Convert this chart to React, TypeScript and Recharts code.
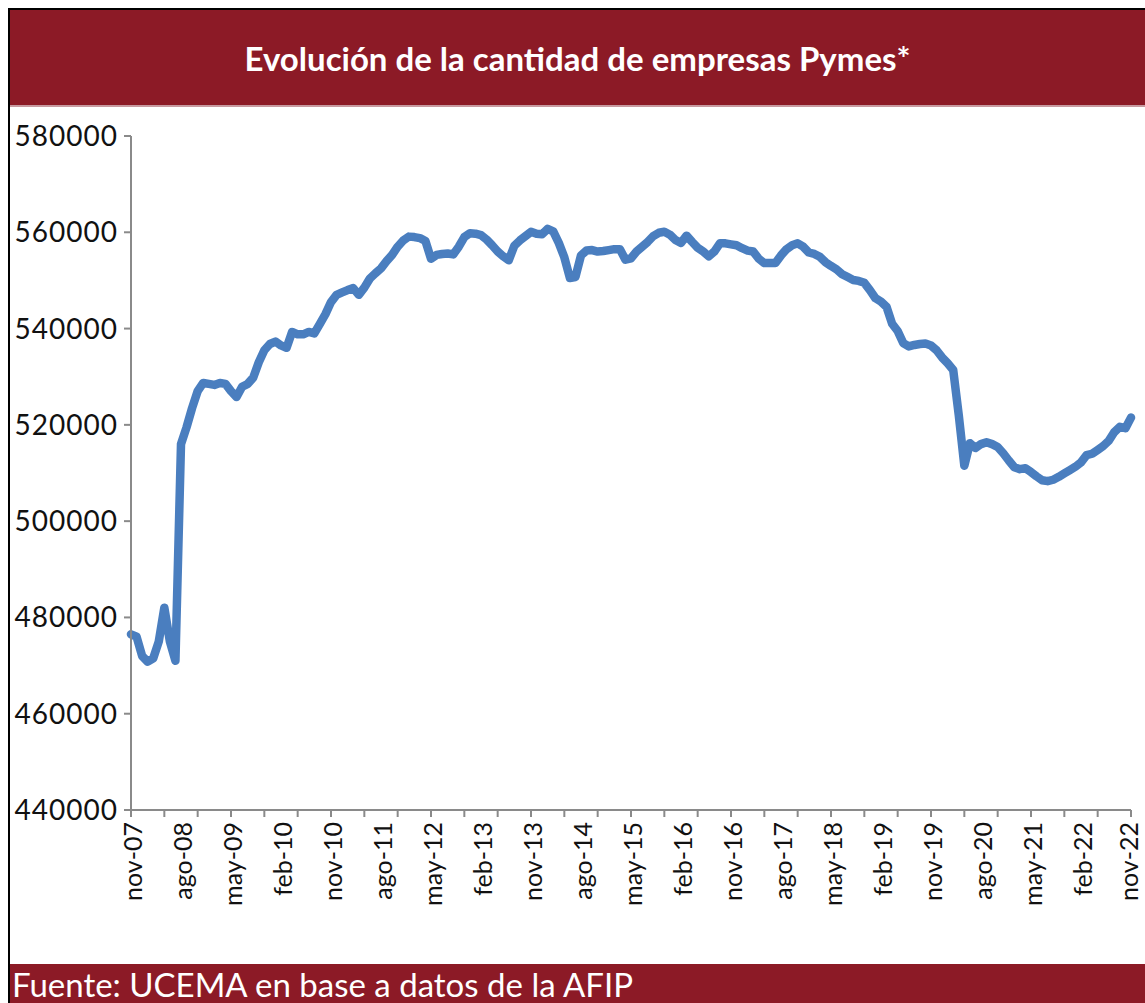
import { LineChart, Line, XAxis, YAxis } from 'recharts';

// meses en castellano, como en el eje del original
const MESES = ['ene', 'feb', 'mar', 'abr', 'may', 'jun', 'jul', 'ago', 'sep', 'oct', 'nov', 'dic'];
const MES_INICIO = 10; // nov
const ANIO_INICIO = 7; // 2007

// cantidad de empresas pymes, mensual nov-07 .. nov-22
const pymes = [
    476500, 476000, 472000, 470800, 471500, 475000, 482000, 475000, 471000, 516000,
    519500, 523500, 527000, 528700, 528500, 528300, 528700, 528500, 527000, 525800,
    527900, 528500, 529800, 533000, 535500, 536800, 537300, 536500, 536000, 539300,
    538800, 538800, 539300, 539000, 541000, 543000, 545500, 547000, 547500, 548000,
    548400, 547000, 548500, 550400, 551500, 552500, 554000, 555300, 557000, 558300,
    559100, 559000, 558800, 558200, 554500, 555300, 555500, 555600, 555400, 557000,
    559000, 559800, 559700, 559400, 558500, 557300, 556000, 555000, 554200, 557200,
    558300, 559200, 560100, 559700, 559600, 560700, 560200, 557800, 554800, 550500,
    550700, 555200, 556200, 556300, 556000, 556100, 556300, 556500, 556500, 554300,
    554600, 556000, 557000, 558000, 559200, 559900, 560100, 559500, 558400, 557800,
    559300, 558000, 556800, 556000, 555000, 556000, 557700, 557700, 557500, 557300,
    556700, 556200, 556000, 554500, 553600, 553600, 553600, 555200, 556500, 557300,
    557700, 557000, 555800, 555500, 554900, 553800, 553000, 552300, 551300, 550700,
    550100, 549900, 549500, 548000, 546300, 545600, 544500, 541000, 539500, 537000,
    536300, 536600, 536800, 536900, 536500, 535500, 534000, 532800, 531400, 522000,
    511500, 516200, 515200, 516000, 516400, 516000, 515400, 514100, 512600, 511200,
    510800, 511000, 510200, 509300, 508500, 508300, 508600, 509200, 509900, 510600,
    511300, 512200, 513700, 514000, 514800, 515600, 516700, 518500, 519600, 519300,
    521500,
];

const yTicks = [440000, 460000, 480000, 500000, 520000, 540000, 560000, 580000];

const fechas = pymes.map((_, i) => {
    const m = MES_INICIO + i;
    const anio = ANIO_INICIO + Math.floor(m / 12);
    return `${MESES[m % 12]}-${String(anio).padStart(2, '0')}`;
});

const data = pymes.map((v, i) => ({ fecha: fechas[i], pymes: v }));

const ROJO = '#8C1A26';
const AZUL = '#4A7EBF';
const EJE = '#8a8a8a';

// etiqueta cada 9 meses, marca cada 6 meses
const MonthTick = (props: any) => {
    const { x, y, payload } = props;
    const i = payload?.index ?? props.index;
    // la última queda pegada al borde, se corre un poco
    const tx = i === pymes.length - 1 ? x - 3 : x + 1;
    return (
        <g>
            {i % 6 === 0 && <line x1={x} y1={y} x2={x} y2={y + 7} stroke={EJE} strokeWidth={2} />}
            {i % 9 === 0 && (
                <text
                    x={tx}
                    y={y + 12}
                    transform={`rotate(-90, ${tx}, ${y + 12})`}
                    textAnchor="end"
                    dominantBaseline="central"
                    fill="#111"
                    fontSize={25}
                    fontFamily="Lato"
                >
                    {payload.value}
                </text>
            )}
        </g>
    );
};

export default function App() {
    return (
        <div style={{ position: 'absolute', left: 0, top: 0, width: 1145, height: 1003, background: '#fff', overflow: 'hidden' }}>
            <LineChart width={1145} height={960} data={data} margin={{ top: 136, right: 14, left: 0, bottom: 30 }}>
                <XAxis
                    dataKey="fecha"
                    interval={0}
                    height={120}
                    tickLine={false}
                    tickSize={0}
                    tickMargin={0}
                    axisLine={{ stroke: EJE, strokeWidth: 2 }}
                    tick={<MonthTick />}
                />
                <YAxis
                    width={131}
                    domain={[440000, 580000]}
                    ticks={yTicks}
                    allowDataOverflow
                    axisLine={{ stroke: EJE, strokeWidth: 2 }}
                    tickLine={{ stroke: EJE, strokeWidth: 2 }}
                    tickSize={7}
                    tickMargin={6}
                    tick={{ fill: '#111', fontSize: 28, fontFamily: 'Lato', letterSpacing: 1 }}
                />
                <Line
                    type="linear"
                    dataKey="pymes"
                    stroke={AZUL}
                    strokeWidth={8.5}
                    strokeLinejoin="round"
                    strokeLinecap="round"
                    dot={false}
                    isAnimationActive={false}
                />
            </LineChart>

            {/* marco */}
            <div style={{ position: 'absolute', left: 8, top: 8, width: 2, height: 995, background: '#000' }} />
            <div style={{ position: 'absolute', left: 8, top: 8, width: 1137, height: 2, background: '#000' }} />

            {/* título */}
            <div
                style={{
                    position: 'absolute', left: 10, top: 10, width: 1135, height: 95, background: ROJO,
                    display: 'flex', alignItems: 'center', justifyContent: 'center',
                    color: '#fff', fontFamily: 'Lato', fontWeight: 700, fontSize: 33,
                    borderBottom: '2px solid #c79aa0',
                }}
            >
                Evolución de la cantidad de empresas Pymes*
            </div>

            {/* fuente */}
            <div
                style={{
                    position: 'absolute', left: 10, top: 964, width: 1135, height: 39, background: ROJO,
                    display: 'flex', alignItems: 'center', paddingLeft: 2,
                    color: '#fff', fontFamily: 'Lato', fontSize: 33,
                }}
            >
                Fuente: UCEMA en base a datos de la AFIP
            </div>
        </div>
    );
}
